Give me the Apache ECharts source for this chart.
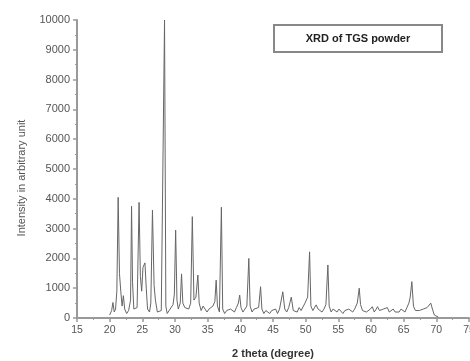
<!DOCTYPE html>
<html>
<head>
<meta charset="utf-8">
<script src="https://cdn.jsdelivr.net/npm/echarts@6/dist/echarts.min.js"></script>
<style>html,body{margin:0;padding:0;background:#fff}#c{width:470px;height:361px}</style>
</head>
<body>
<div id="c"></div>
<script>
var twoTheta = [20.0,20.3,20.5,20.7,20.9,21.1,21.3,21.5,21.7,21.9,22.1,22.3,22.6,22.9,23.2,23.35,23.5,23.7,23.9,24.2,24.5,24.7,24.9,25.1,25.4,25.6,25.8,26.1,26.3,26.55,26.8,27.0,27.3,27.6,27.9,28.2,28.4,28.6,28.8,29.1,29.4,29.7,29.9,30.1,30.3,30.5,30.8,31.0,31.2,31.5,31.8,32.1,32.4,32.65,32.9,33.2,33.5,33.7,34.0,34.3,34.6,34.9,35.2,35.5,35.8,36.1,36.3,36.5,36.8,37.1,37.3,37.6,37.9,38.2,38.5,38.8,39.1,39.4,39.7,39.9,40.1,40.4,40.7,41.0,41.3,41.5,41.8,42.1,42.4,42.8,43.1,43.3,43.6,43.9,44.2,44.5,44.8,45.1,45.4,45.7,46.0,46.5,46.8,47.1,47.4,47.8,48.1,48.4,48.7,49.0,49.3,49.6,49.9,50.3,50.6,50.8,51.1,51.4,51.6,51.9,52.2,52.5,52.8,53.1,53.4,53.6,53.9,54.2,54.5,54.8,55.1,55.4,55.7,56.0,56.3,56.6,56.9,57.2,57.5,57.9,58.2,58.4,58.7,59.0,59.3,59.6,59.9,60.2,60.5,60.8,61.0,61.3,61.6,61.9,62.2,62.5,62.8,63.1,63.4,63.7,64.0,64.3,64.6,64.9,65.2,65.5,65.8,66.0,66.25,66.5,66.8,67.1,67.4,67.7,68.0,68.3,68.6,68.9,69.15,69.4,69.7,70.0,70.3];
var intensity = [100,250,520,200,300,900,4050,1500,900,400,750,300,150,250,600,3750,1200,300,250,350,3880,1400,900,1700,1850,1000,300,200,500,3620,1100,600,200,150,250,300,10000,400,150,250,300,450,800,2950,600,300,500,1480,500,350,400,300,500,3400,600,700,1440,500,250,400,300,200,300,250,400,550,1270,400,200,3720,300,150,250,200,300,250,200,350,500,770,350,200,300,400,2000,400,200,300,250,350,1050,300,150,250,300,150,250,200,300,150,300,880,300,200,350,700,250,300,200,350,250,300,500,700,2220,400,250,300,440,300,250,200,300,450,1780,400,200,300,250,200,300,250,150,250,200,300,250,200,300,500,1000,450,250,300,200,250,300,380,200,300,380,250,200,300,250,350,200,250,300,200,250,200,300,250,200,350,500,700,1220,400,250,300,250,200,300,250,350,400,500,300,100,50,30];
var xTicks = [15,20,25,30,35,40,45,50,55,60,65,70,75];
var yTicks = [0,1000,2000,3000,4000,5000,6000,7000,8000,9000,10000];

var pts = twoTheta.map(function(x,i){return [x, intensity[i]];});
var chart = echarts.init(document.getElementById('c'), null, {renderer:'canvas'});
var axisCol = '#999';
chart.setOption({
  animation:false,
  backgroundColor:'#fff',
  grid:{left:77,right:1,top:20,bottom:43,containLabel:false,outerBoundsMode:'none'},
  xAxis:{type:'value',min:xTicks[0],max:xTicks[xTicks.length-1],interval:5,
    name:'2 theta (degree)',nameLocation:'middle',nameGap:30,
    nameTextStyle:{fontFamily:'Liberation Sans',fontWeight:'bold',fontSize:11,color:'#333'},
    axisLine:{lineStyle:{color:axisCol,width:2}},
    axisTick:{show:true,length:4,lineStyle:{color:axisCol,width:1.5}},
    minorTick:{show:true,splitNumber:2,length:2,lineStyle:{color:axisCol}},
    axisLabel:{fontFamily:'Liberation Sans',fontSize:10.5,color:'#555',margin:7,hideOverlap:false,formatter:function(v){return String(v);}},
    splitLine:{show:false}},
  yAxis:{type:'value',min:yTicks[0],max:yTicks[yTicks.length-1],interval:1000,
    name:'Intensity in arbitrary unit',nameLocation:'middle',nameGap:50,
    nameTextStyle:{fontFamily:'Liberation Sans',fontSize:11,color:'#555',padding:[0,0,0,-18]},
    axisLine:{show:true,lineStyle:{color:axisCol,width:2}},
    axisTick:{show:true,length:4,lineStyle:{color:axisCol,width:1.5}},
    minorTick:{show:true,splitNumber:2,length:2,lineStyle:{color:axisCol}},
    axisLabel:{fontFamily:'Liberation Sans',fontSize:11,color:'#555',margin:7,formatter:function(v){return String(v);}},
    splitLine:{show:false}},
  series:[{type:'line',data:pts,showSymbol:false,symbol:'none',
    lineStyle:{color:'#666',width:1}}],
  graphic:[
    {type:'rect',shape:{x:274,y:25,width:168,height:27},style:{fill:'#fff',stroke:'#888',lineWidth:2}},
    {type:'text',x:358,y:39,style:{text:'XRD of TGS powder',fontFamily:'Liberation Sans',fontWeight:'bold',fontSize:11,fill:'#222',textAlign:'center',textVerticalAlign:'middle'}}
  ]
});
</script>
</body>
</html>
